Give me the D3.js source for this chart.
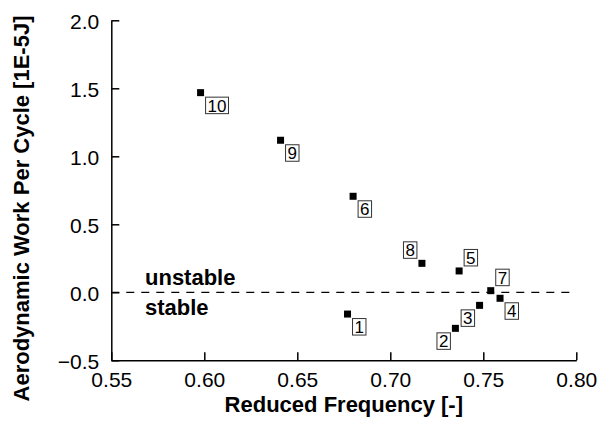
<!DOCTYPE html>
<html>
<head>
<meta charset="utf-8">
<script src="https://cdn.jsdelivr.net/npm/d3@7"></script>
<style>
  html, body { margin: 0; padding: 0; background: #fff; }
  svg { display: block; font-family: "Liberation Sans", Arial, Helvetica, sans-serif; }
</style>
</head>
<body>
<svg id="chart" width="600" height="426"></svg>
<script>
// ---- data ----
const caseIds = [1, 2, 3, 4, 5, 6, 7, 8, 9, 10];
const reducedFrequency = [0.677, 0.735, 0.748, 0.759, 0.737, 0.680, 0.754, 0.717, 0.641, 0.598];
const aeroWork = [-0.160, -0.265, -0.096, -0.044, 0.157, 0.706, 0.012, 0.213, 1.118, 1.468];
// label placement relative to marker: r/l = right/left, b/t = below/above
const labelPlacement = ["rb", "lb", "lb", "rb", "rt", "rb", "rt", "lt", "rb", "rb"];
const xTicks = [0.55, 0.60, 0.65, 0.70, 0.75, 0.80];
const yTicks = [-0.5, 0.0, 0.5, 1.0, 1.5, 2.0];
const xTitle = "Reduced Frequency [-]";
const yTitle = "Aerodynamic Work Per Cycle [1E-5J]";
const regionLabels = ["unstable", "stable"];

// ---- layout ----
const W = 600, H = 426;
const margin = { left: 111.3, right: 23.7, top: 20.3, bottom: 65.7 };
const svg = d3.select("#chart");

const x = d3.scaleLinear().domain([0.55, 0.80]).range([margin.left, W - margin.right]);
const y = d3.scaleLinear().domain([-0.5, 2.0]).range([H - margin.bottom, margin.top]);

// dashed zero line
svg.append("line")
  .attr("x1", x(0.55)).attr("x2", x(0.80))
  .attr("y1", y(0)).attr("y2", y(0))
  .attr("stroke", "#000").attr("stroke-width", 1.3)
  .attr("stroke-dasharray", "8,7");

// axes
const xAxis = d3.axisBottom(x).tickValues(xTicks).tickFormat(d3.format(".2f"))
  .tickSizeInner(-8).tickSizeOuter(0).tickPadding(12);
const yAxis = d3.axisLeft(y).tickValues(yTicks).tickFormat(d3.format(".1f"))
  .tickSizeInner(-8).tickSizeOuter(0).tickPadding(12);

const gx = svg.append("g").attr("transform", `translate(0,${y(-0.5)})`).call(xAxis);
const gy = svg.append("g").attr("transform", `translate(${x(0.55)},0)`).call(yAxis);

[gx, gy].forEach(g => {
  g.select(".domain").attr("stroke", "#000").attr("stroke-width", 1.5);
  g.selectAll(".tick line").attr("stroke", "#000").attr("stroke-width", 1.5);
  g.selectAll(".tick text").attr("fill", "#000")
    .style("font-size", "21px")
    .style("font-family", '"Liberation Sans", Arial, Helvetica, sans-serif');
});
gy.selectAll(".tick text").attr("dy", "0.38em");

// axis titles
svg.append("text")
  .attr("x", (x(0.55) + x(0.80)) / 2).attr("y", 412)
  .attr("text-anchor", "middle")
  .style("font-size", "22px").style("font-weight", "bold")
  .text(xTitle);

svg.append("text")
  .attr("transform", `translate(29,${(12 + 405) / 2}) rotate(-90)`)
  .attr("text-anchor", "middle")
  .style("font-size", "22px").style("font-weight", "bold")
  .text(yTitle);

// region labels
svg.append("text").attr("x", 145).attr("y", y(0) - 7.5)
  .style("font-size", "22px").style("font-weight", "bold").text(regionLabels[0]);
svg.append("text").attr("x", 145).attr("y", y(0) + 22.5)
  .style("font-size", "22px").style("font-weight", "bold").text(regionLabels[1]);

// points
const pts = caseIds.map((id, i) => ({ id, fx: reducedFrequency[i], w: aeroWork[i], place: labelPlacement[i] }));
const ms = 7;
svg.append("g").selectAll("rect").data(pts).join("rect")
  .attr("x", d => x(d.fx) - ms / 2).attr("y", d => y(d.w) - ms / 2)
  .attr("width", ms).attr("height", ms).attr("fill", "#000");

// boxed labels
const fs = 17, pad = 2, gap = 5;
const lg = svg.append("g");
pts.forEach(d => {
  const txt = String(d.id);
  const tw = txt.length * fs * 0.556;
  const bw = tw + pad * 2, bh = 16.5;
  const cx = x(d.fx), cy = y(d.w);
  const bx = d.place[0] === "r" ? cx + gap : cx - gap - bw;
  const by = d.place[1] === "b" ? cy + gap - 0.5 : cy - gap - bh;
  lg.append("rect").attr("x", bx).attr("y", by).attr("width", bw).attr("height", bh)
    .attr("fill", "#fff").attr("stroke", "#333").attr("stroke-width", 1);
  lg.append("text").attr("x", bx + bw / 2).attr("y", by + bh / 2)
    .attr("text-anchor", "middle").attr("dy", "0.36em")
    .style("font-size", fs + "px").text(txt);
});
</script>
</body>
</html>
